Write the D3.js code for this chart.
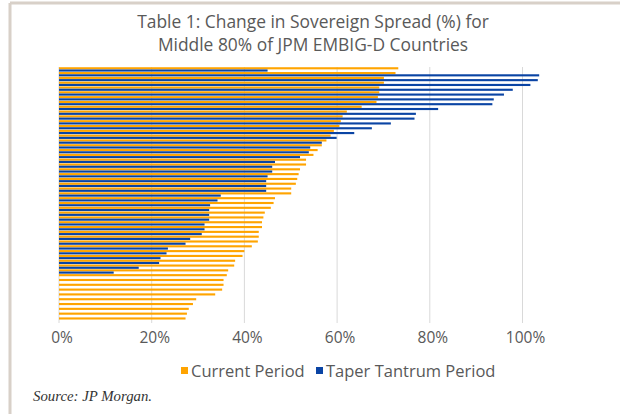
<!DOCTYPE html>
<html>
<head>
<meta charset="utf-8">
<script src="https://d3js.org/d3.v7.min.js"></script>
<style>
  body { margin: 0; background: white; }
</style>
</head>
<body>
<svg width="620" height="414" id="MainSVG" font-family="'Open Sans', sans-serif"></svg>
<script>
// values (percent change), sorted as in the chart
var currentPeriod = [73.2, 72.6, 70.1, 70.1, 69.1, 69.1, 68.8, 68.5, 65.3,
  62.1, 61.2, 60.8, 60.5, 59.3, 58.6, 57.7, 56.7,
  55.8, 54.9, 53.3, 53.3, 52.0, 51.7, 51.4, 51.1, 50.1,
  50.1, 46.6, 46.3, 45.7, 44.4, 44.1, 43.8, 43.8, 43.1,
  43.1, 42.9, 41.6, 40.0, 39.6, 38.0, 37.8, 36.5, 36.2,
  35.5, 35.5, 35.2, 33.7, 29.6, 28.9, 28.0, 27.6, 27.3];
var taperTantrum = [45.0, 103.6, 103.3, 101.7, 97.9, 96.0, 93.8, 93.5,
  81.8, 77.0, 76.7, 71.6, 67.5, 63.7, 59.9, 56.7, 54.2,
  53.9, 52.0, 46.6, 46.0, 46.0, 45.0, 44.7, 44.7, 44.7,
  34.9, 34.2, 32.6, 32.4, 32.4, 32.4, 31.4, 31.4, 30.8,
  28.3, 27.3, 23.5, 23.2, 21.9, 21.6, 17.2, 11.8];
var seriesNames = ["Current Period", "Taper Tantrum Period"];
var seriesColors = ["#ffa400", "#0a44a4"];
var tickValues = [0, 20, 40, 60, 80, 100];

var svg = d3.select("#MainSVG");

// frame
svg.append("line").attr("x1", 10).attr("y1", 3).attr("x2", 620).attr("y2", 3)
  .attr("stroke", "#d8d0c8").attr("stroke-width", 3);
svg.append("line").attr("x1", 10).attr("y1", 3).attr("x2", 10).attr("y2", 414)
  .attr("stroke", "#d8d0c8").attr("stroke-width", 3);

// title
svg.append("text").attr("x", 313).attr("y", 28).attr("text-anchor", "middle")
  .attr("font-size", "17.4px").attr("fill", "#595959")
  .text("Table 1: Change in Sovereign Spread (%) for");
svg.append("text").attr("x", 313).attr("y", 51).attr("text-anchor", "middle")
  .attr("font-size", "17.4px").attr("fill", "#595959")
  .text("Middle 80% of JPM EMBIG-D Countries");

var xs = d3.scaleLinear().domain([0, 100]).range([59, 522.5]);
var cats = d3.range(currentPeriod.length);
var ys = d3.scaleBand().domain(cats).range([67, 322]).padding(0);
var sub = d3.scaleBand().domain([0, 1]).range([0, ys.bandwidth()]).paddingInner(0.05).paddingOuter(0.1);

// gridlines
svg.append("g").selectAll("line").data(tickValues).enter().append("line")
  .attr("x1", function(d) { return xs(d); }).attr("x2", function(d) { return xs(d); })
  .attr("y1", 67).attr("y2", 323)
  .attr("stroke", "#d9d9d9").attr("stroke-width", 1);

var rows = [];
cats.forEach(function(i) {
  rows.push({cat: i, s: 0, v: currentPeriod[i]});
  if (i < taperTantrum.length) rows.push({cat: i, s: 1, v: taperTantrum[i]});
});

svg.append("g").selectAll("rect").data(rows).enter().append("rect")
  .attr("x", xs(0))
  .attr("y", function(d) { return ys(d.cat) + sub(d.s); })
  .attr("width", function(d) { return xs(d.v) - xs(0); })
  .attr("height", sub.bandwidth())
  .attr("fill", function(d) { return seriesColors[d.s]; });

// x axis labels
svg.append("g").selectAll("text").data(tickValues).enter().append("text")
  .attr("x", function(d) { return xs(d) + 3; })
  .attr("y", 343)
  .attr("text-anchor", "middle")
  .attr("font-size", "15.5px").attr("fill", "#595959")
  .text(function(d) { return d + "%"; });

// legend
var legend = svg.append("g");
var lx = [181, 316];
seriesNames.forEach(function(n, i) {
  legend.append("rect").attr("x", lx[i]).attr("y", 367).attr("width", 7).attr("height", 7)
    .attr("fill", seriesColors[i]);
  legend.append("text").attr("x", lx[i] + 10).attr("y", 377)
    .attr("font-size", "16.5px").attr("fill", "#595959").text(n);
});

// source
svg.append("text").attr("x", 33).attr("y", 401)
  .style("font-family", "'Liberation Serif', serif").attr("font-style", "italic")
  .attr("font-size", "14.8px").attr("fill", "#333")
  .text("Source: JP Morgan.");
</script>
</body>
</html>
